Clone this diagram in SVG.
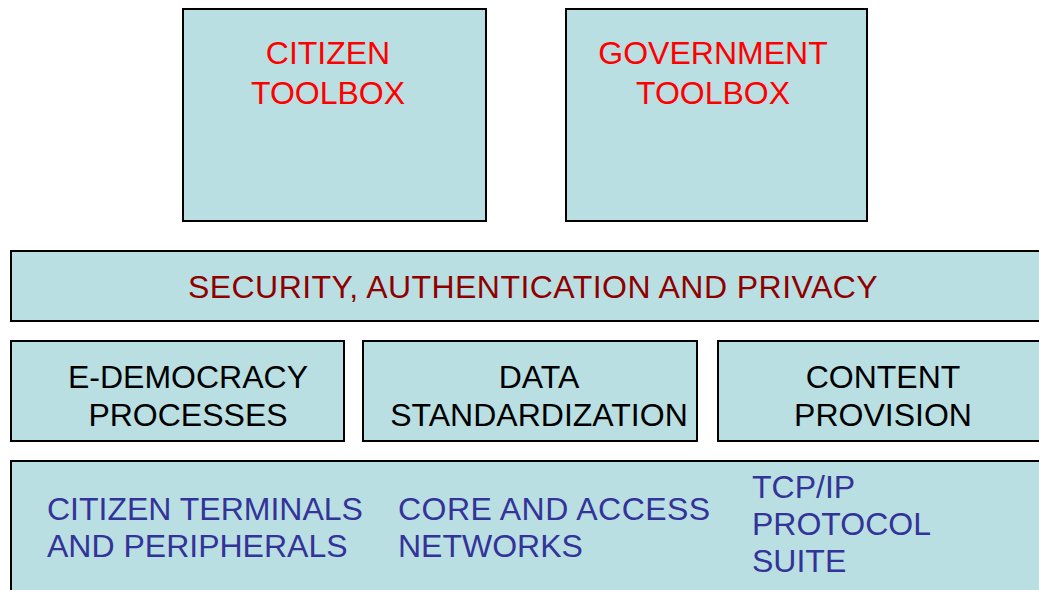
<svg xmlns="http://www.w3.org/2000/svg" width="1039" height="590" viewBox="0 0 1039 590">
  <style>
    .box { fill: #BADFE2; stroke: #000; stroke-width: 2; }
    text { font-family: "Liberation Sans", Arial, sans-serif; font-size: 32px; }
    .red { fill: #FF0000; text-anchor: middle; }
    .dred { fill: #8E0000; text-anchor: middle; }
    .blk { fill: #000; text-anchor: middle; }
    .blue { fill: #333399; }
    .wide { letter-spacing: 0.45px; }
  </style>
  <rect width="1039" height="590" fill="#fff"/>

  <g id="citizen-toolbox">
    <rect class="box" x="183" y="9" width="303" height="212"/>
    <text class="red" x="328" y="64">CITIZEN</text>
    <text class="red" x="328" y="104">TOOLBOX</text>
  </g>

  <g id="government-toolbox">
    <rect class="box" x="566" y="9" width="301" height="212"/>
    <text class="red" x="713" y="64">GOVERNMENT</text>
    <text class="red" x="713" y="104">TOOLBOX</text>
  </g>

  <g id="security">
    <rect class="box" x="11" y="251" width="1040" height="70"/>
    <text class="dred wide" x="533" y="298">SECURITY, AUTHENTICATION AND PRIVACY</text>
  </g>

  <g id="e-democracy">
    <rect class="box" x="11" y="341" width="333" height="100"/>
    <text class="blk" x="188" y="388">E-DEMOCRACY</text>
    <text class="blk" x="188" y="426">PROCESSES</text>
  </g>

  <g id="data-standardization">
    <rect class="box" x="363" y="341" width="334" height="100"/>
    <text class="blk" x="539" y="388">DATA</text>
    <text class="blk" x="539" y="426">STANDARDIZATION</text>
  </g>

  <g id="content-provision">
    <rect class="box" x="718" y="341" width="333" height="100"/>
    <text class="blk" x="883" y="388">CONTENT</text>
    <text class="blk" x="883" y="426">PROVISION</text>
  </g>

  <g id="infrastructure">
    <rect class="box" x="11" y="461" width="1040" height="140"/>
    <text class="blue" x="47" y="520">CITIZEN TERMINALS</text>
    <text class="blue" x="47" y="557">AND PERIPHERALS</text>
    <text class="blue wide" x="398" y="520">CORE AND ACCESS</text>
    <text class="blue" x="398" y="557">NETWORKS</text>
    <text class="blue" x="752" y="498">TCP/IP</text>
    <text class="blue" x="752" y="535">PROTOCOL</text>
    <text class="blue" x="752" y="572">SUITE</text>
  </g>

  <g id="connectors"/>
</svg>
